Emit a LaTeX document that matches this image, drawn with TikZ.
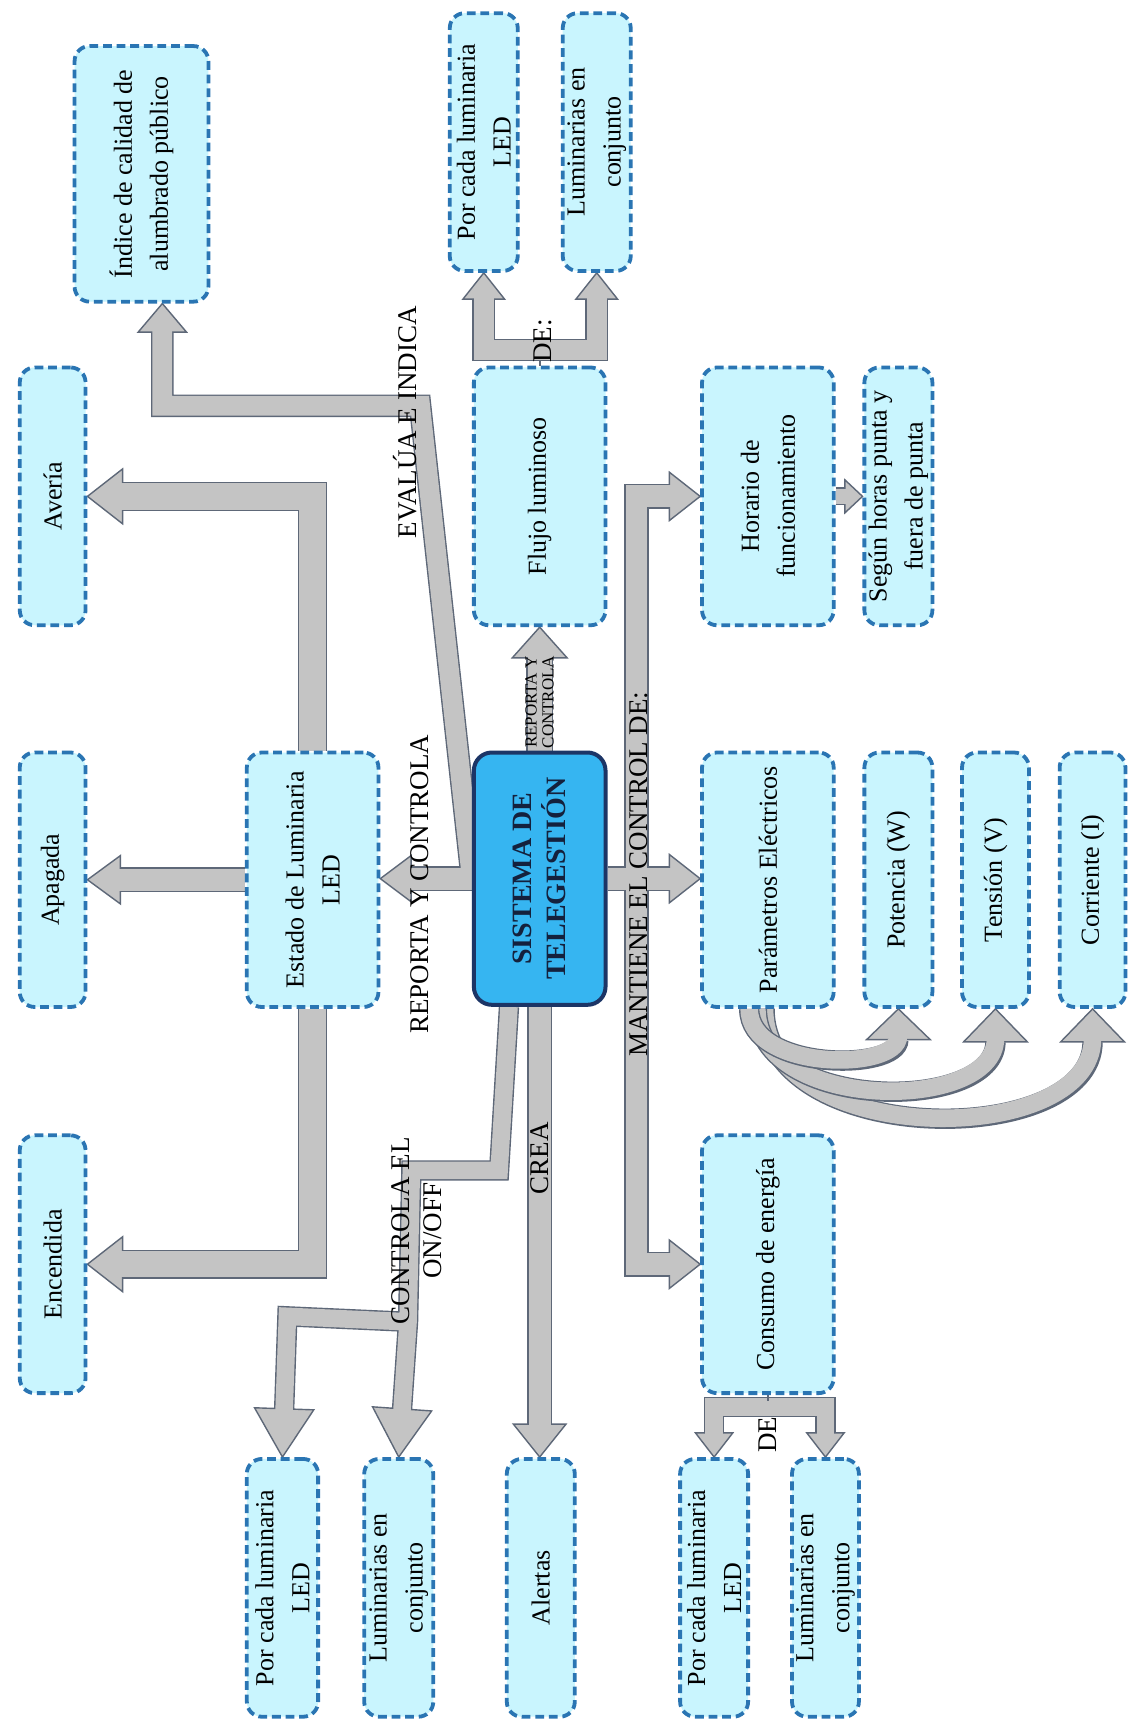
\documentclass[tikz,border=0pt]{standalone}
\usepackage{fontspec}
\setmainfont{Liberation Serif}
\usetikzlibrary{calc}
\pgfdeclarelayer{bg}
\pgfsetlayers{bg,main}

\definecolor{boxfill}{HTML}{C9F5FE}
\definecolor{boxline}{HTML}{2A75B3}
\definecolor{sysfill}{HTML}{36B5F1}
\definecolor{sysline}{HTML}{1C3566}
\definecolor{systext}{HTML}{14213D}
\definecolor{arrfill}{HTML}{C4C4C4}
\definecolor{arrline}{HTML}{5E6878}

\def\U{0.5486pt}

\tikzset{
  box/.style={draw=boxline, fill=boxfill, line width=1.9pt,
    dash pattern=on 4.4pt off 2.4pt, rounded corners=7.5pt, inner sep=0pt},
  boxtext/.style={rotate=90, align=center, inner sep=0pt,
    font=\fontsize{13}{18}\selectfont},
  lbl/.style={rotate=90, align=center, inner sep=0pt,
    font=\fontsize{13.5}{16}\selectfont},
  arr/.style={fill=arrfill, draw=arrline, line width=0.7pt, line join=miter},
  shaftout/.style={draw=arrline, line width={2*#1*\U+1.4pt}, line join=miter, line cap=butt},
  shaftin/.style={draw=arrfill, line width={2*#1*\U}, line join=miter, line cap=butt},
}

% rounded dashed box with rotated text: name, x1, y1, x2, y2, text
\newcommand\mybox[6]{%
  \node[box, minimum width={(#4-#2)*\U}, minimum height={(#5-#3)*\U}]
    (#1) at ({(#2+#4)/2},{(#3+#5)/2}) {};
  \node[boxtext] (#1-t) at (#1.center) {#6};
}
% arrow head: tip, direction (0 right, 90 down, 180 left, 270 up), half width, length
\newcommand\ahead[4]{%
  \path[arr] (#1) -- ($(#1)+({#2+180}:#4)+({#2+90}:#3)$)
    -- ($(#1)+({#2+180}:#4)+({#2-90}:#3)$) -- cycle;
}

\begin{document}
\begin{tikzpicture}[x=\U,y=-\U]
\useasboundingbox (0,0) rectangle (1028,1568);

% ---------- boxes ----------
\mybox{enc}{18}{1035}{78}{1270}{Encendida}
\mybox{apa}{18}{686}{78}{918}{Apagada}
\mybox{ave}{18}{335}{78}{570}{Avería}
\mybox{ind}{68}{42}{190}{275}{Índice de calidad de\\alumbrado público}
\mybox{est}{225}{686}{345}{918}{Estado de Luminaria\\LED}
\mybox{flu}{432}{335}{552}{570}{Flujo luminoso}
\mybox{tpa}{410}{12}{472}{247}{Por cada luminaria\\LED}
\mybox{tpb}{513}{12}{575}{247}{Luminarias en\\conjunto}
\mybox{hor}{640}{335}{760}{570}{Horario de\\funcionamiento}
\mybox{seg}{788}{335}{850}{570}{Según horas punta y\\fuera de punta}
\mybox{par}{640}{686}{760}{918}{Parámetros Eléctricos}
\mybox{pot}{788}{686}{850}{918}{Potencia (W)}
\mybox{ten}{877}{686}{938}{918}{Tensión (V)}
\mybox{cor}{966}{686}{1026}{918}{Corriente (I)}
\mybox{con}{640}{1035}{760}{1270}{Consumo de energía}
\mybox{rba}{620}{1330}{682}{1565}{Por cada luminaria\\LED}
\mybox{rbb}{722}{1330}{783}{1565}{Luminarias en\\conjunto}
\mybox{lba}{225}{1330}{290}{1565}{Por cada luminaria\\LED}
\mybox{lbb}{332}{1330}{395}{1565}{Luminarias en\\conjunto}
\mybox{ale}{462}{1330}{524}{1565}{Alertas}

% central system block
\node[draw=sysline, fill=sysfill, line width=2pt, rounded corners=9pt,
  minimum width={120*\U}, minimum height={230*\U}, inner sep=0pt] (sis) at (492,801) {};
\node[rotate=90, align=center, inner sep=0pt, text=systext,
  font=\fontsize{14}{17}\selectfont\bfseries] (sis-t) at (sis.center) {SISTEMA DE\\TELEGESTIÓN};

\coordinate (k1) at ($(sis.south)+(-28,0)$);
\coordinate (k2) at (455,1067);
\coordinate (k3) at (375,1067);
\coordinate (k4) at (372,1205);
\coordinate (k5) at (262,1200);
\coordinate (ev) at (383,370);
\coordinate (ix) at ($(ind.south)+(19,0)$);

% ---------- block arrows ----------
\begin{pgfonlayer}{bg}
\fill[white] (0,0) rectangle (1028,1568);
% outlines of the shafts
\draw[shaftout=10, shorten >=25*\U] (sis.west) -- (sis.west -| est.east);
\draw[shaftout=10, shorten >=27*\U] (est.west) -- (apa.east);
\draw[shaftout=12, shorten >=29*\U] (est.north) |- (ave.east);
\draw[shaftout=12, shorten >=29*\U] (est.south) |- (enc.east);
\draw[shaftout=9, shorten >=23*\U] (sis.west) -- (ev) -| (ix);
\draw[shaftout=11, shorten >=25*\U] (sis.north) -- (flu.south);
\draw[shaftout=9, shorten >=21*\U, shorten <=21*\U] (tpa.south) |- ($(flu.north)+(0,-14)$) -| (tpb.south);
\draw[shaftout=10, shorten >=25*\U] (sis.east) -- (sis.east -| par.west);
\draw[shaftout=10, shorten >=25*\U, shorten <=25*\U] (hor.west) -- ++(-58,0) |- (con.west);
\draw[shaftout=7, shorten >=13*\U] (hor.east) -- (seg.west);
\draw[shaftout=8, shorten >=41*\U] (k4) -- (k5) -- (lba.north);
\draw[shaftout=8, shorten >=41*\U] (k1) -- (k2) -- (k3) -- (k4) -- (lbb.north);
\draw[shaftout=10, shorten >=27*\U] (sis.south) -- (sis.south |- ale.north);
\draw[shaftout=8, shorten >=19*\U, shorten <=19*\U] (rba.north) |- ($(con.south)+(0,11)$) -| (rbb.north);

% heads
\ahead{sis.west -| est.east}{180}{21}{28}
\ahead{apa.east}{180}{22}{30}
\ahead{ave.east}{180}{25}{32}
\ahead{enc.east}{180}{25}{32}
\ahead{ix}{270}{22}{26}
\ahead{flu.south}{270}{25}{28}
\ahead{tpa.south}{270}{19}{24}
\ahead{tpb.south}{270}{19}{24}
\ahead{sis.east -| par.west}{0}{22}{28}
\ahead{hor.west}{0}{22}{28}
\ahead{con.west}{0}{22}{28}
\ahead{seg.west}{0}{15}{16}
\ahead{lba.north}{92}{27}{44}
\ahead{lbb.north}{94}{27}{44}
\ahead{sis.south |- ale.north}{90}{24}{30}
\ahead{rba.north}{90}{17}{22}
\ahead{rbb.north}{90}{17}{22}

% shaft fills
\draw[shaftin=10, shorten >=25*\U] (sis.west) -- (sis.west -| est.east);
\draw[shaftin=10, shorten >=27*\U] (est.west) -- (apa.east);
\draw[shaftin=12, shorten >=29*\U] (est.north) |- (ave.east);
\draw[shaftin=12, shorten >=29*\U] (est.south) |- (enc.east);
\draw[shaftin=9, shorten >=23*\U] (sis.west) -- (ev) -| (ix);
\draw[shaftin=11, shorten >=25*\U] (sis.north) -- (flu.south);
\draw[shaftin=9, shorten >=21*\U, shorten <=21*\U] (tpa.south) |- ($(flu.north)+(0,-14)$) -| (tpb.south);
\draw[shaftin=10, shorten >=25*\U] (sis.east) -- (sis.east -| par.west);
\draw[shaftin=10, shorten >=25*\U, shorten <=25*\U] (hor.west) -- ++(-58,0) |- (con.west);
\draw[shaftin=7, shorten >=13*\U] (hor.east) -- (seg.west);
\draw[shaftin=8, shorten >=41*\U] (k4) -- (k5) -- (lba.north);
\draw[shaftin=8, shorten >=41*\U] (k1) -- (k2) -- (k3) -- (k4) -- (lbb.north);
\draw[shaftin=10, shorten >=27*\U] (sis.south) -- (sis.south |- ale.north);
\draw[shaftin=8, shorten >=19*\U, shorten <=19*\U] (rba.north) |- ($(con.south)+(0,11)$) -| (rbb.north);

% small stems of the two forks
\draw[arrline, line width=0.8pt] ($(flu.north)+(0,-5)$) -- (flu.north);
\draw[arrline, line width=0.8pt] (con.south) -- ($(con.south)+(0,5)$);

% curved arrows to the electrical parameters
\draw[shaftout=8] ($(par.south)+(-3,0)$) .. controls ($(par.south)+(-3,128)$) and ($(cor.south)+(0,128)$) .. ($(cor.south)+(0,30)$);
\ahead{cor.south}{270}{29}{30}
\draw[shaftin=8] ($(par.south)+(-3,0)$) .. controls ($(par.south)+(-3,128)$) and ($(cor.south)+(0,128)$) .. ($(cor.south)+(0,27)$);
\draw[shaftout=8] ($(par.south)+(-10,0)$) .. controls ($(par.south)+(-10,95)$) and ($(ten.south)+(0,95)$) .. ($(ten.south)+(0,30)$);
\ahead{ten.south}{270}{29}{30}
\draw[shaftin=8] ($(par.south)+(-10,0)$) .. controls ($(par.south)+(-10,95)$) and ($(ten.south)+(0,95)$) .. ($(ten.south)+(0,27)$);
\draw[shaftout=8] ($(par.south)+(-17,0)$) .. controls ($(par.south)+(-17,57)$) and ($(pot.south)+(0,57)$) .. ($(pot.south)+(0,28)$);
\ahead{pot.south}{270}{29}{28}
\draw[shaftin=8] ($(par.south)+(-17,0)$) .. controls ($(par.south)+(-17,57)$) and ($(pot.south)+(0,57)$) .. ($(pot.south)+(0,25)$);
\end{pgfonlayer}

% ---------- connector labels ----------
\node[lbl] (l1) at (383,806) {REPORTA Y CONTROLA};
\node[lbl] (l2) at (369,385) {EVALÚA E INDICA};
\node[lbl, font=\fontsize{8.5}{8.5}\selectfont] (l3) at (492,640) {REPORTA Y\\CONTROLA};
\node[lbl] (l4) at (495,311) {DE:};
\node[lbl] (l5) at (582,797) {MANTIENE EL CONTROL DE:};
\node[lbl] (l6) at (380,1122) {CONTROLA EL\\ON/OFF};
\node[lbl] (l7) at (492,1056) {CREA};
\node[lbl] (l8) at (700,1308) {DE};
\end{tikzpicture}
\end{document}
